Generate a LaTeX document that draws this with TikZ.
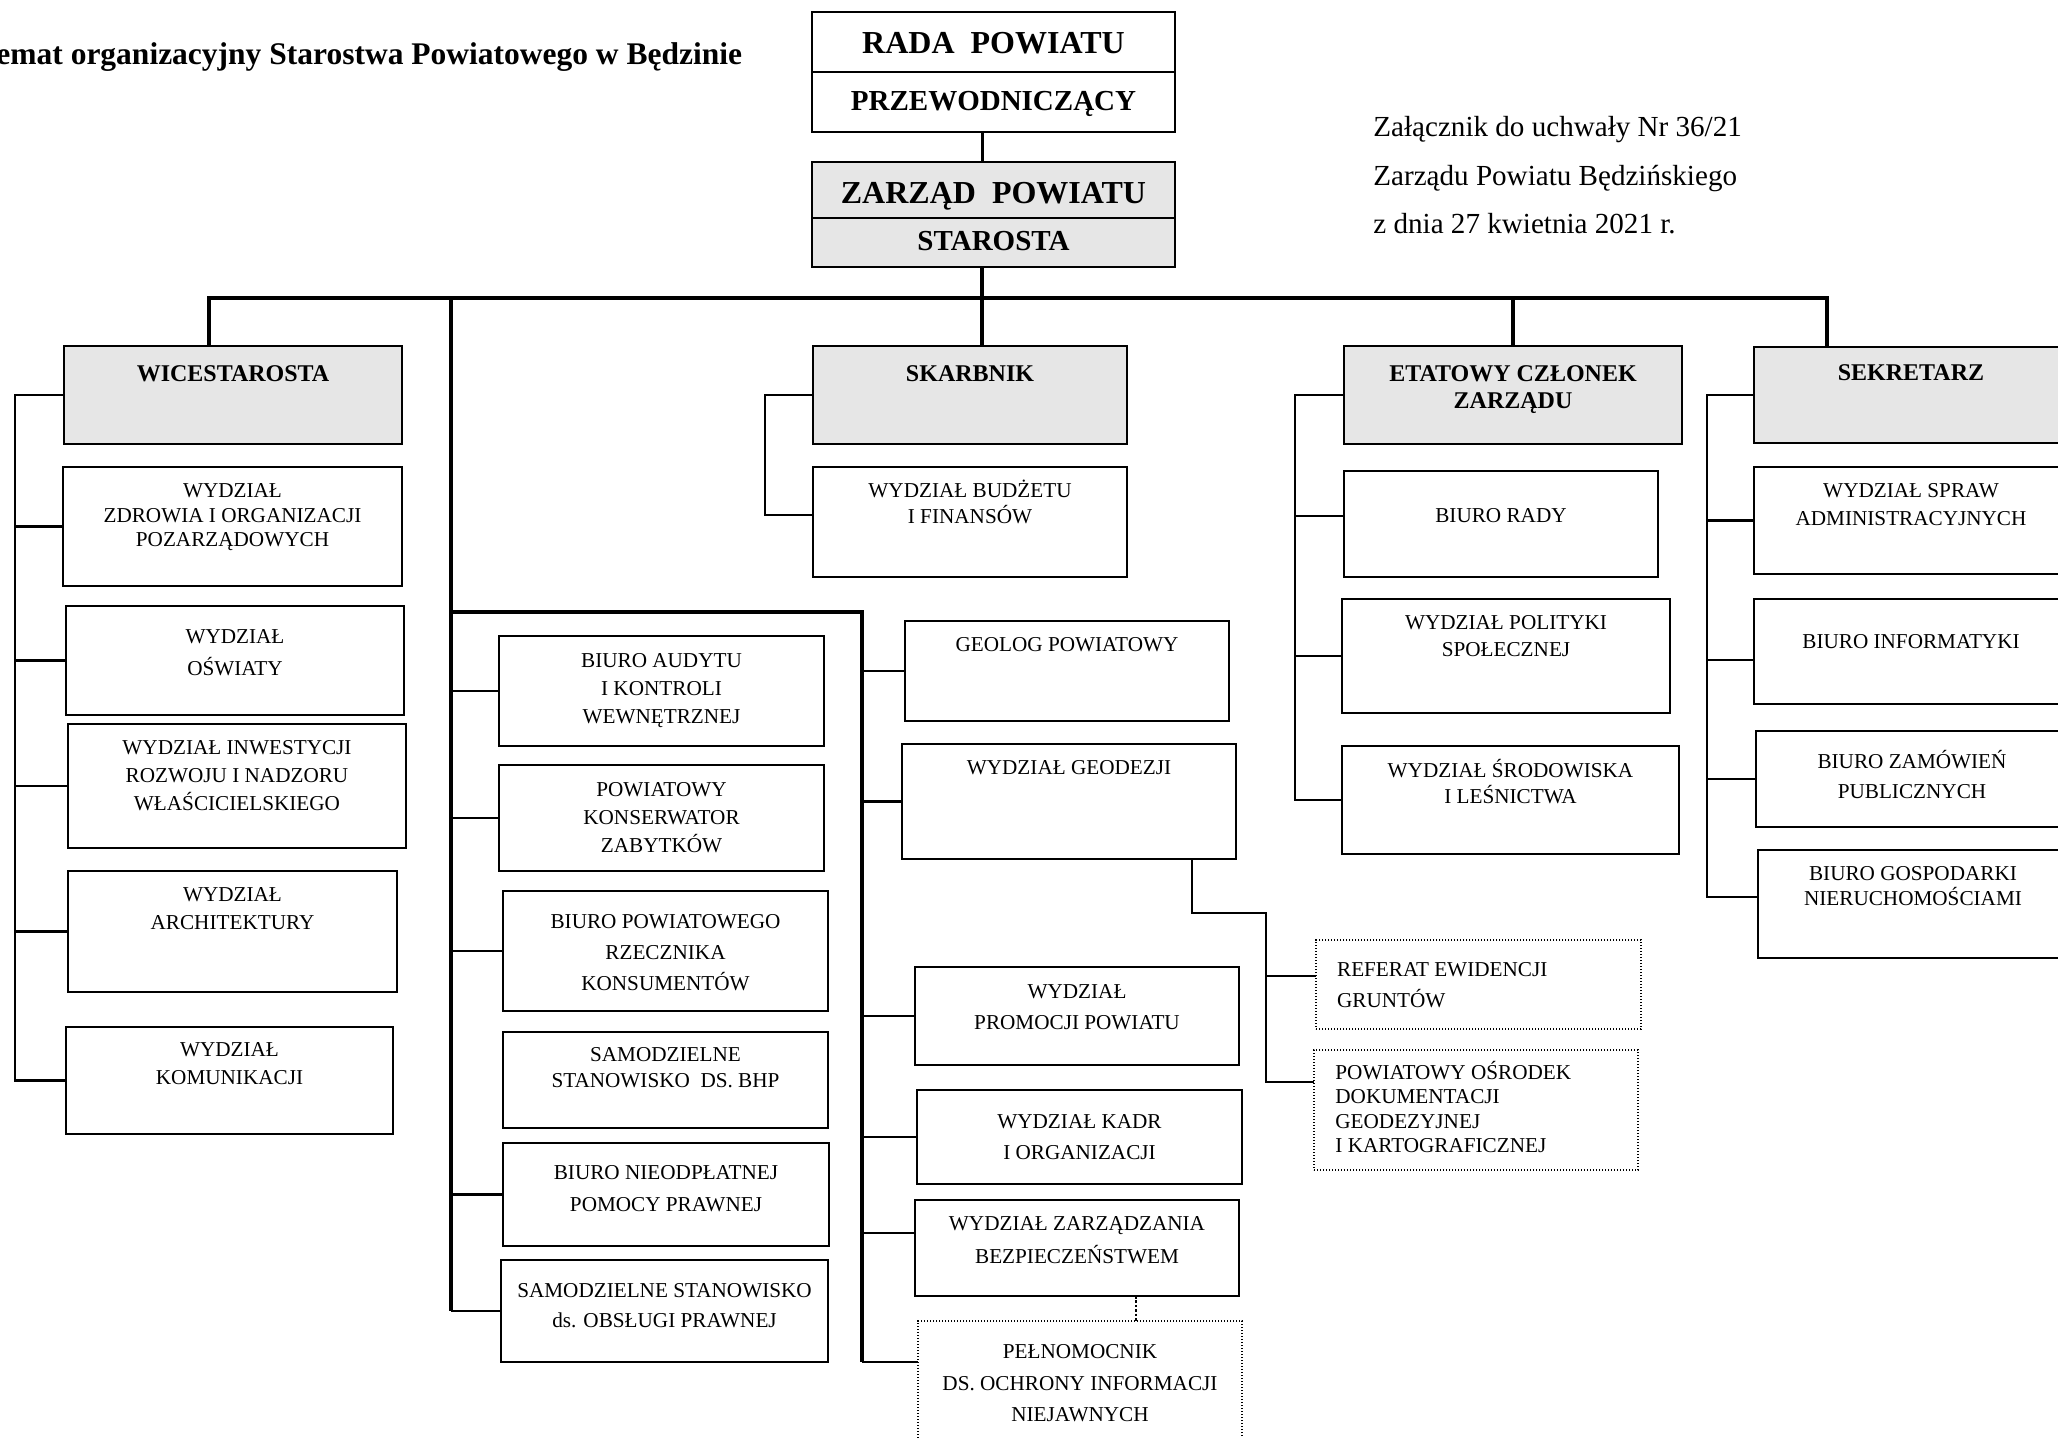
\documentclass[tikz,border=0pt]{standalone}
\usepackage{fontspec}
\setmainfont{Liberation Serif}
\usetikzlibrary{fit,calc}
\definecolor{headgray}{RGB}{230,230,230}
\newcommand\bx[6][box]{\node[#1, fit={(#3,#4) (#5,#6)}] (#2) {};}
\newcommand\tc[1]{\begin{tabular}[t]{@{}c@{}}#1\end{tabular}}
\newcommand\tlft[1]{\begin{tabular}[t]{@{}l@{}}#1\end{tabular}}
\begin{document}
\begin{tikzpicture}[x=0.5pt,y=-0.5pt,
  box/.style={draw=black, line width=0.7pt, inner sep=0pt, outer sep=0pt, fill=white},
  head/.style={box, fill=headgray},
  dbox/.style={draw=black, line width=0.7pt, dash pattern=on 0.7pt off 0.8pt, inner sep=0pt, outer sep=0pt},
  conn/.style={line width=1.1pt, line join=miter},
  thick/.style={line width=2pt, line join=miter},
  dconn/.style={line width=1.1pt, dash pattern=on 1.3pt off 0.9pt},
  txt/.style={inner sep=0pt, anchor=base, font=\fontsize{10.6}{14}\selectfont},
  ls/.style={font=\fontsize{10.6}{#1}\selectfont},
  hd/.style={inner sep=0pt, anchor=base, font=\bfseries\fontsize{12}{13.75}\selectfont}]
\useasboundingbox (0,0) rectangle (2058,1437);
\clip (0,0) rectangle (2058,1437);

% title and annex
\node[inner sep=0pt, anchor=base west, font=\bfseries\fontsize{15.75}{18}\selectfont] (title) at (-53,64) {Schemat organizacyjny Starostwa Powiatowego w Będzinie};
\node[inner sep=0pt, anchor=base west, font=\fontsize{14.55}{24.15}\selectfont] (annex) at (1373,136.7) {\tlft{Załącznik do uchwały Nr 36/21\\Zarządu Powiatu Będzińskiego\\z dnia 27 kwietnia 2021 r.}};

% top boxes
\bx{rada}{812}{12}{1175}{72}
\bx{przew}{812}{72}{1175}{132}
\bx[head]{zarzad}{812}{162}{1175}{218}
\bx[head]{staro}{812}{218}{1175}{267}
\node[inner sep=0pt, anchor=base, font=\bfseries\fontsize{16}{18}\selectfont] at (rada.center |- 0,53.5) {RADA\ \ POWIATU};
\node[inner sep=0pt, anchor=base, font=\bfseries\fontsize{14.5}{16}\selectfont] at (przew.center |- 0,110) {PRZEWODNICZĄCY};
\node[inner sep=0pt, anchor=base, font=\bfseries\fontsize{16}{18}\selectfont] at (zarzad.center |- 0,203) {ZARZĄD\ \ POWIATU};
\node[inner sep=0pt, anchor=base, font=\bfseries\fontsize{14.5}{16}\selectfont] at (staro.center |- 0,250) {STAROSTA};

% head boxes
\bx[head]{wice}{64}{346}{402}{444}
\bx[head]{skarb}{813}{346}{1127}{444}
\bx[head]{etat}{1344}{346}{1682}{444}
\bx[head]{sekr}{1754}{347}{2068}{443}
\node[hd] at (wice.center |- 0,381) {WICESTAROSTA};
\node[hd] at (skarb.center |- 0,381) {SKARBNIK};
\node[hd] at (etat.center |- 0,381) {\tc{ETATOWY CZŁONEK\\ZARZĄDU}};
\node[hd] at (sekr.center |- 0,380) {SEKRETARZ};

% left column
\bx{zdrow}{63}{467}{402}{586}
\bx{oswiat}{66}{606}{404}{715}
\bx{inwest}{68}{724}{406}{848}
\bx{archit}{68}{871}{397}{992}
\bx{komun}{66}{1027}{393}{1134}
\node[txt, ls=12.15] at (zdrow.center |- 0,497.7) {\tc{WYDZIAŁ\\ZDROWIA I ORGANIZACJI\\POZARZĄDOWYCH}};
\node[txt, ls=15.8] at (oswiat.center |- 0,643.7) {\tc{WYDZIAŁ\\OŚWIATY}};
\node[txt, ls=14.15] at (inwest.center |- 0,754) {\tc{WYDZIAŁ INWESTYCJI\\ROZWOJU I NADZORU\\WŁAŚCICIELSKIEGO}};
\node[txt, ls=13.75] at (archit.center |- 0,901.7) {\tc{WYDZIAŁ\\ARCHITEKTURY}};
\node[txt, ls=14] at (komun.center |- 0,1056.8) {\tc{WYDZIAŁ\\KOMUNIKACJI}};

% middle column
\bx{audyt}{499}{636}{824}{746}
\bx{konserw}{499}{765}{824}{871}
\bx{rzeczn}{503}{891}{828}{1011}
\bx{bhp}{503}{1032}{828}{1128}
\bx{nieodp}{503}{1143}{829}{1246}
\bx{obsl}{501}{1260}{828}{1362}
\node[txt, ls=14] at (audyt.center |- 0,667) {\tc{BIURO AUDYTU\\I KONTROLI\\WEWNĘTRZNEJ}};
\node[txt, ls=14] at (konserw.center |- 0,796) {\tc{POWIATOWY\\KONSERWATOR\\ZABYTKÓW}};
\node[txt, ls=15.65] at (rzeczn.center |- 0,928) {\tc{BIURO POWIATOWEGO\\RZECZNIKA\\KONSUMENTÓW}};
\node[txt, ls=12.65] at (bhp.center |- 0,1061.7) {\tc{SAMODZIELNE\\STANOWISKO\ \ DS. BHP}};
\node[txt, ls=16] at (nieodp.center |- 0,1179.5) {\tc{BIURO NIEODPŁATNEJ\\POMOCY PRAWNEJ}};
\node[txt, ls=15] at (obsl.center |- 0,1297) {\tc{SAMODZIELNE STANOWISKO\\ds. OBSŁUGI PRAWNEJ}};

% skarbnik column
\bx{budzet}{813}{467}{1127}{577}
\node[txt, ls=12.4] at (budzet.center |- 0,497.4) {\tc{WYDZIAŁ BUDŻETU\\I FINANSÓW}};

% fourth column
\bx{geolog}{905}{621}{1229}{721}
\bx{geodez}{902}{744}{1236}{859}
\bx{promoc}{915}{967}{1239}{1065}
\bx{kadr}{917}{1090}{1242}{1184}
\bx{zarzadz}{915}{1200}{1239}{1296}
\bx[dbox]{pelnom}{918}{1321}{1242}{1460}
\node[txt] at (geolog.center |- 0,651.7) {GEOLOG POWIATOWY};
\node[txt] at (geodez.center |- 0,774.3) {WYDZIAŁ GEODEZJI};
\node[txt, ls=15.7] at (promoc.center |- 0,998.4) {\tc{WYDZIAŁ\\PROMOCJI POWIATU}};
\node[txt, ls=15.5] at (kadr.center |- 0,1128) {\tc{WYDZIAŁ KADR\\I ORGANIZACJI}};
\node[txt, ls=16.25] at (zarzadz.center |- 0,1230.5) {\tc{WYDZIAŁ ZARZĄDZANIA\\BEZPIECZEŃSTWEM}};
\node[txt, ls=15.8] at (pelnom.center |- 0,1358.5) {\tc{PEŁNOMOCNIK\\DS. OCHRONY INFORMACJI\\NIEJAWNYCH}};

% geodezja sub-units
\bx[dbox]{referat}{1316}{940}{1641}{1029}
\bx[dbox]{osrodek}{1314}{1050}{1638}{1170}
\node[txt, ls=15.5, anchor=base west] at (1336.7,976.7) {\tlft{REFERAT EWIDENCJI\\GRUNTÓW}};
\node[txt, ls=12.15, anchor=base west] at (1335,1079.6) {\tlft{POWIATOWY OŚRODEK\\DOKUMENTACJI\\GEODEZYJNEJ\\I KARTOGRAFICZNEJ}};

% etatowy column
\bx{rady}{1344}{471}{1658}{577}
\bx{polit}{1342}{599}{1670}{713}
\bx{srodow}{1342}{746}{1679}{854}
\node[txt] at (rady.center |- 0,522.2) {BIURO RADY};
\node[txt, ls=13.2] at (polit.center |- 0,629.9) {\tc{WYDZIAŁ POLITYKI\\SPOŁECZNEJ}};
\node[txt, ls=12.45] at (srodow.center |- 0,777.4) {\tc{WYDZIAŁ ŚRODOWISKA\\I LEŚNICTWA}};

% sekretarz column
\bx{spraw}{1754}{467}{2068}{574}
\bx{inform}{1754}{599}{2068}{704}
\bx{zamow}{1756}{731}{2068}{827}
\bx{gospod}{1758}{850}{2068}{958}
\node[txt, ls=13.8] at (spraw.center |- 0,497.9) {\tc{WYDZIAŁ SPRAW\\ADMINISTRACYJNYCH}};
\node[txt] at (inform.center |- 0,648) {BIURO INFORMATYKI};
\node[txt, ls=15] at (zamow.center |- 0,768.6) {\tc{BIURO ZAMÓWIEŃ\\PUBLICZNYCH}};
\node[txt, ls=11.65] at (gospod.center |- 0,880) {\tc{BIURO GOSPODARKI\\NIERUCHOMOŚCIAMI}};

% ---------- connectors ----------
\coordinate (ax) at (982,0);
\coordinate (bW) at (209,298);
\coordinate (bM) at (451,298);
\coordinate (bC) at (982,298);
\coordinate (bE) at (1513,298);
\coordinate (bS) at (1827,298);
\draw[line width=1.5pt] (przew.south -| ax) -- (zarzad.north -| ax);
\draw[thick] (wice.north -| bW) -- (bW) -- (bS) -- (sekr.north -| bS);
\draw[thick] (staro.south -| ax) -- (skarb.north -| ax);
\draw[thick] (bE) -- (bE |- etat.north);

% left spine
\coordinate (lS) at (15,0);
\draw[conn] (wice.west) -| (komun.west -| lS) -- (komun.west);
\foreach \b in {zdrow,oswiat,inwest,archit} \draw[conn] (\b.west) -- (\b.west -| lS);

% middle spine
\draw[thick] (bM) -- (obsl.west -| bM);
\foreach \b in {audyt,konserw,rzeczn,nieodp,obsl} \draw[conn] (\b.west) -- (\b.west -| bM);
\coordinate (j1) at (451,612);
\coordinate (j2) at (862,612);
\coordinate (pst) at ($(pelnom.north west)+(0,41)$);
\coordinate (zst) at ($(zarzadz.north west)+(0,33)$);
\draw[thick] (j1) -- (j2) -- (pst -| j2);
\foreach \b in {geolog,geodez,promoc,kadr} \draw[conn] (\b.west) -- (\b.west -| j2);
\draw[conn] (zst) -- (zst -| j2);
\draw[conn] (pst) -- (pst -| j2);
\coordinate (px) at (1136,0);
\draw[dconn] (zarzadz.south -| px) -- (pelnom.north -| px);

% geodezja sub-tree
\coordinate (g1) at (1192,913);
\coordinate (g2) at (1266,913);
\coordinate (rst) at ($(referat.north west)+(0,36)$);
\coordinate (ost) at ($(osrodek.north west)+(0,32)$);
\draw[conn] (geodez.south -| g1) -- (g1) -- (g2) -- (ost -| g2) -- (ost);
\draw[conn] (rst) -- (rst -| g2);

% skarbnik spine
\coordinate (sS) at (765,0);
\coordinate (bst) at ($(budzet.north west)+(0,48)$);
\draw[conn] (skarb.west) -| (bst -| sS) -- (bst);

% etatowy spine
\coordinate (eS) at (1295,0);
\coordinate (rdst) at ($(rady.north west)+(0,45)$);
\draw[conn] (etat.west) -| (srodow.west -| eS) -- (srodow.west);
\draw[conn] (rdst) -- (rdst -| eS);
\draw[conn] (polit.west) -- (polit.west -| eS);

% sekretarz spine
\coordinate (kS) at (1707,0);
\coordinate (gst) at ($(gospod.north west)+(0,47)$);
\coordinate (ist) at ($(inform.north west)+(0,61)$);
\draw[conn] (sekr.west) -| (gst -| kS) -- (gst);
\draw[conn] (spraw.west) -- (spraw.west -| kS);
\draw[conn] (ist) -- (ist -| kS);
\draw[conn] (zamow.west) -- (zamow.west -| kS);
\end{tikzpicture}
\end{document}
